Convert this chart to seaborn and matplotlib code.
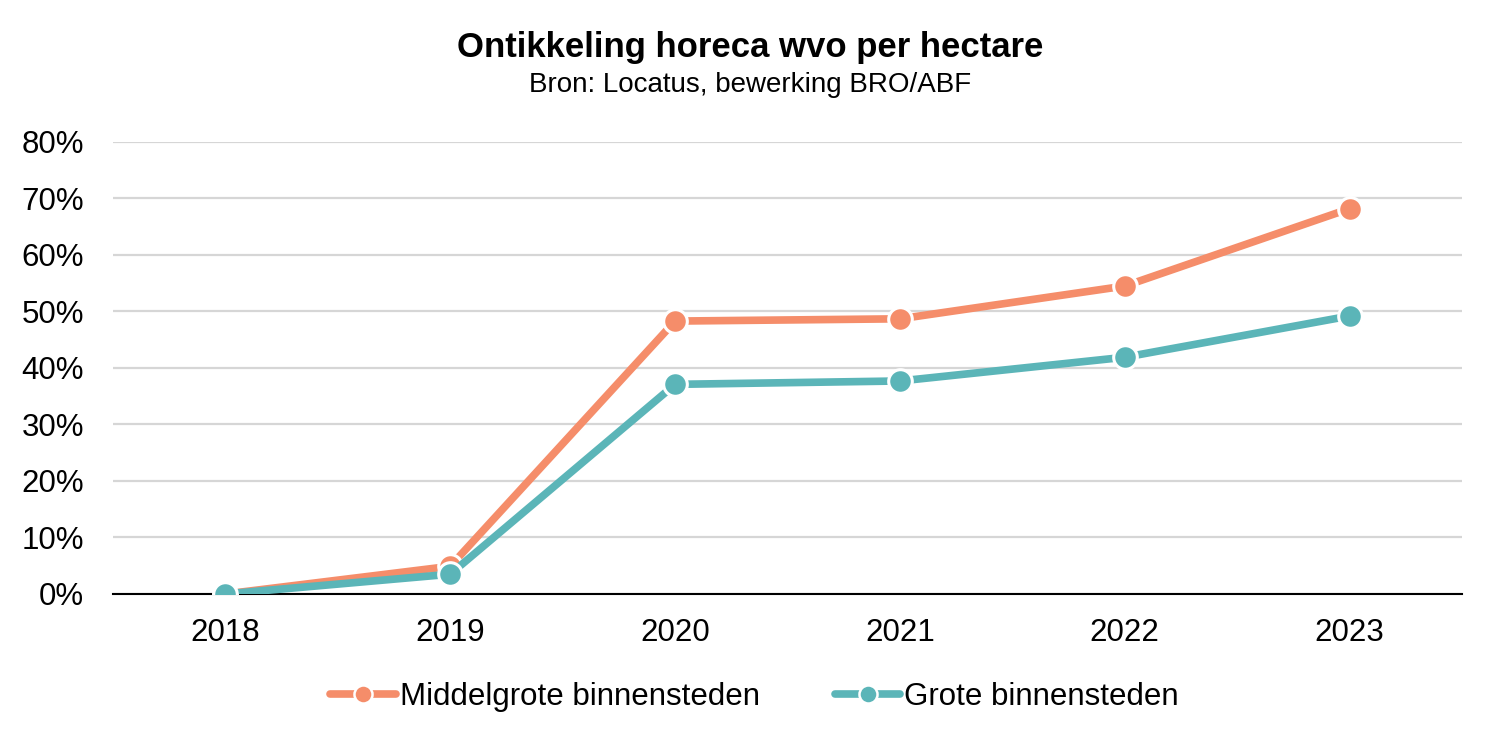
import matplotlib
matplotlib.use("Agg")
import matplotlib.pyplot as plt
import seaborn as sns
import pandas as pd
from matplotlib.ticker import FuncFormatter
from matplotlib.lines import Line2D

years = ["2018", "2019", "2020", "2021", "2022", "2023"]
series_names = ["Middelgrote binnensteden", "Grote binnensteden"]
middelgrote = [0.0, 0.049, 0.483, 0.487, 0.545, 0.682]
grote = [0.0, 0.035, 0.371, 0.377, 0.419, 0.492]
colors = ["#F58D6A", "#5BB5B8"]

sns.set_theme(style="white")
plt.rcParams['font.family'] = ['Liberation Sans', 'DejaVu Sans']
plt.rcParams['text.color'] = 'black'
plt.rcParams['xtick.color'] = 'black'
plt.rcParams['ytick.color'] = 'black'

rows = []
for name, vals in zip(series_names, [middelgrote, grote]):
    for i, (y, v) in enumerate(zip(years, vals)):
        rows.append({"x": i, "year": y, "value": v, "serie": name})
df = pd.DataFrame(rows)

fig = plt.figure(figsize=(15, 7.48), dpi=100)
ax = fig.add_axes([0.0753, 0.2059, 0.8994, 0.6043])

sns.lineplot(data=df, x="x", y="value", hue="serie", hue_order=series_names,
             palette=colors, marker="o", markersize=17, linewidth=5.5,
             markeredgecolor="white", markeredgewidth=2.2, ax=ax, legend=False,
             zorder=3)

ax.set_xlim(-0.5, 5.5)
ax.set_ylim(0, 0.8)
ax.set_xticks(range(len(years)))
ax.set_xticklabels(years, fontsize=22.5)
ax.set_yticks([i / 10 for i in range(9)])
ax.yaxis.set_major_formatter(FuncFormatter(lambda v, p: f"{round(v*100)}%"))
ax.tick_params(axis="y", labelsize=22.5, length=0, pad=21)
ax.tick_params(axis="x", length=0, pad=17)
ax.grid(axis="y", color="#D6D6D6", linewidth=1.6)
ax.set_axisbelow(True)
for s in ["top", "right", "left"]:
    ax.spines[s].set_visible(False)
ax.spines["bottom"].set_color("black")
ax.spines["bottom"].set_linewidth(1.5)
ax.spines["bottom"].set_zorder(2)
ax.set_xlabel("")
ax.set_ylabel("")

fig.text(0.5, 0.936, "Ontikkeling horeca wvo per hectare", ha="center", va="center",
         fontsize=25, fontweight="bold")
fig.text(0.5, 0.886, "Bron: Locatus, bewerking BRO/ABF", ha="center", va="center",
         fontsize=20)

handles = [Line2D([0], [0], color=c, lw=5.5, marker="o", markersize=13,
                  markeredgecolor="white", markeredgewidth=1.8) for c in colors]
fig.legend(handles, series_names, loc="center", bbox_to_anchor=(0.503, 0.068),
           ncol=2, frameon=False, fontsize=22.5, handlelength=2.1,
           handletextpad=0.12, columnspacing=2.4)

fig.savefig("out.png", dpi=100)
